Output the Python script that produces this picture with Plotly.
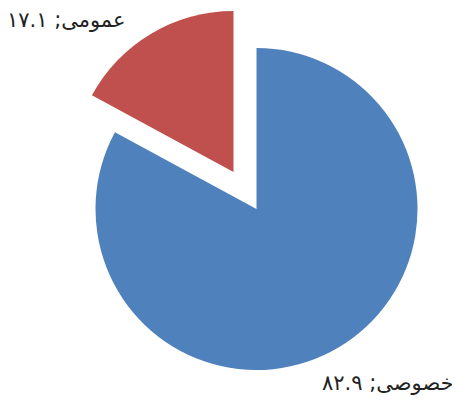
import plotly.graph_objects as go

# Data
categories = ["خصوصی", "عمومی"]
values = [82.9, 17.1]
colors = ["#4F81BD", "#C0504D"]

persian_digits = str.maketrans("0123456789", "۰۱۲۳۴۵۶۷۸۹")
label_texts = [f"{c}; {str(v).translate(persian_digits)}" for c, v in zip(categories, values)]

# page body has an 8px margin, so the figure is sized to fit the window
OFF = 8
W, H = 460 - OFF, 400 - OFF
R = 161

def dom(cx, cy, r=R):
    cx -= OFF
    cy -= OFF
    return dict(x=[(cx - r) / W, (cx + r) / W],
                y=[1 - (cy + r) / H, 1 - (cy - r) / H])

fig = go.Figure()
# main (blue) slice; red slice hidden here
fig.add_trace(go.Pie(
    labels=categories, values=values, sort=False, direction="clockwise", rotation=0,
    marker=dict(colors=[colors[0], "rgba(0,0,0,0)"], line=dict(width=0)),
    textinfo="none", hoverinfo="label+value", showlegend=False,
    domain=dom(256.5, 209),
))
# exploded (red) slice, drawn with offset center
fig.add_trace(go.Pie(
    labels=categories, values=values, sort=False, direction="clockwise", rotation=0,
    marker=dict(colors=["rgba(0,0,0,0)", colors[1]], line=dict(width=0)),
    textinfo="none", hoverinfo="label+value", showlegend=False,
    domain=dom(233.5, 172),
))

label_pos = [(388, 383), (66, 20)]
for txt, (px, py) in zip(label_texts, label_pos):
    fig.add_annotation(text=txt, x=(px - OFF) / W, y=1 - (py - OFF) / H,
                       xref="paper", yref="paper",
                       showarrow=False, xanchor="center", yanchor="middle",
                       font=dict(family="DejaVu Sans", size=21, color="#222222"))

fig.update_layout(width=W, height=H, margin=dict(l=0, r=0, t=0, b=0),
                  paper_bgcolor="white", plot_bgcolor="white")
fig.write_html("out.html")
